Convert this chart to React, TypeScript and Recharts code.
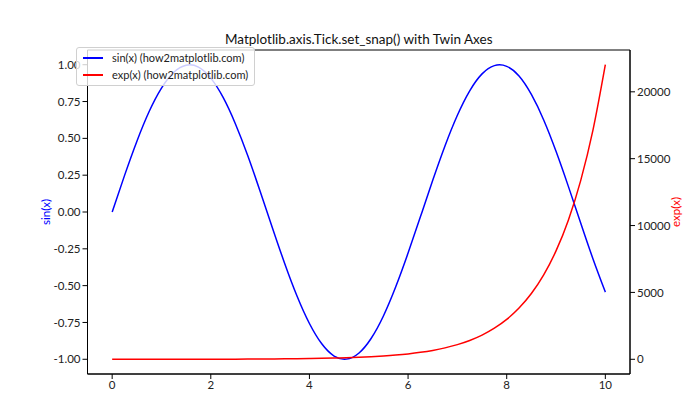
import React from "react";
import {
  LineChart,
  Line,
  XAxis,
  YAxis,
  ReferenceArea,
} from "recharts";

const xValues = [
  0, 0.25, 0.5, 0.75, 1, 1.25, 1.5, 1.75, 2, 2.25, 2.5, 2.75, 3, 3.25, 3.5,
  3.75, 4, 4.25, 4.5, 4.75, 5, 5.25, 5.5, 5.75, 6, 6.25, 6.5, 6.75, 7, 7.25,
  7.5, 7.75, 8, 8.25, 8.5, 8.75, 9, 9.25, 9.5, 9.75, 10,
];

const sinValues = [
  0, 0.247, 0.479, 0.682, 0.841, 0.949, 0.997, 0.984, 0.909, 0.778, 0.598,
  0.382, 0.141, -0.108, -0.351, -0.572, -0.757, -0.895, -0.978, -0.999, -0.959,
  -0.859, -0.706, -0.508, -0.279, -0.033, 0.215, 0.45, 0.657, 0.823, 0.938,
  0.994, 0.989, 0.923, 0.798, 0.625, 0.412, 0.174, -0.075, -0.319, -0.544,
];

const expValues = [
  1, 1.28, 1.65, 2.12, 2.72, 3.49, 4.48, 5.75, 7.39, 9.49, 12.2, 15.6, 20.1,
  25.8, 33.1, 42.5, 54.6, 70.1, 90, 115.6, 148.4, 190.6, 244.7, 314.2, 403.4,
  518, 665.1, 854.1, 1096.6, 1408.1, 1808, 2321.6, 2981, 3827.6, 4914.8,
  6310.7, 8103.1, 10404.6, 13359.7, 17154.2, 22026.5,
];

const xTicks = [0, 2, 4, 6, 8, 10];
const sinTicks = [-1, -0.75, -0.5, -0.25, 0, 0.25, 0.5, 0.75, 1];
const expTicks = [0, 5000, 10000, 15000, 20000];

const legendItems = [
  { name: "sin(x) (how2matplotlib.com)", color: "#0000ff" },
  { name: "exp(x) (how2matplotlib.com)", color: "#ff0000" },
];

const data = xValues.map((x, i) => ({
  x,
  sin: sinValues[i],
  exp: expValues[i],
}));

const FONT = "Lato, 'Noto Sans', sans-serif";
const tickStyle = { fontSize: 11.5, fill: "#222", fontFamily: FONT };

const axisLabel = (text: string, cx: number, color: string) => (props: any) => {
  const vb = props.viewBox || {};
  const cy = vb.y + vb.height / 2;
  return (
    <text
      x={cx}
      y={cy}
      transform={`rotate(-90 ${cx} ${cy})`}
      textAnchor="middle"
      dominantBaseline="central"
      fill={color}
      fontSize={11.5}
      fontFamily={FONT}
    >
      {text}
    </text>
  );
};

export default function App() {
  return (
    <div
      style={{
        position: "absolute",
        left: 0,
        top: 0,
        width: 700,
        height: 420,
        background: "#fff",
      }}
    >
      <div
        style={{
          position: "absolute",
          top: 31,
          left: 87.5,
          width: 542.5,
          textAlign: "center",
          fontFamily: FONT,
          fontSize: 13.5,
          color: "#111",
        }}
      >
        Matplotlib.axis.Tick.set_snap() with Twin Axes
      </div>
      <LineChart
        width={700}
        height={420}
        data={data}
        margin={{ top: 50, right: 10, bottom: 16, left: 27.5 }}
      >
        <XAxis
          dataKey="x"
          type="number"
          domain={[-0.5, 10.5]}
          ticks={xTicks}
          height={30}
          tick={tickStyle}
          tickSize={5}
          tickLine={{ stroke: "#000" }}
          axisLine={{ stroke: "#000" }}
          allowDataOverflow
        />
        <YAxis
          yAxisId="left"
          type="number"
          domain={[-1.1, 1.1]}
          ticks={sinTicks}
          width={60}
          tick={tickStyle}
          tickSize={5}
          tickLine={{ stroke: "#000" }}
          axisLine={{ stroke: "#000" }}
          tickFormatter={(v: number) => v.toFixed(2)}
          allowDataOverflow
          label={axisLabel("sin(x)", 45, "#0000ff")}
        />
        <YAxis
          yAxisId="right"
          orientation="right"
          type="number"
          domain={[-1100, 23127]}
          ticks={expTicks}
          width={60}
          tick={tickStyle}
          tickSize={5}
          tickLine={{ stroke: "#000" }}
          axisLine={{ stroke: "#000" }}
          allowDataOverflow
          label={axisLabel("exp(x)", 675, "#ff0000")}
        />
        <ReferenceArea
          yAxisId="left"
          x1={-0.5}
          x2={10.5}
          y1={-1.1}
          y2={1.1}
          fill="none"
          fillOpacity={0}
          stroke="#000"
          strokeWidth={1}
          ifOverflow="visible"
        />
        <Line
          yAxisId="left"
          dataKey="sin"
          type="natural"
          stroke="#0000ff"
          strokeWidth={1.5}
          dot={false}
          isAnimationActive={false}
        />
        <Line
          yAxisId="right"
          dataKey="exp"
          type="monotone"
          stroke="#ff0000"
          strokeWidth={1.5}
          dot={false}
          isAnimationActive={false}
        />
      </LineChart>
      <div
        style={{
          position: "absolute",
          left: 76,
          top: 47,
          background: "rgba(255,255,255,0.8)",
          border: "1px solid #d0d0d0",
          borderRadius: 3,
          padding: "1px 6px 2px 6px",
          fontFamily: FONT,
          fontSize: 11,
          color: "#222",
          lineHeight: "17px",
        }}
      >
        {legendItems.map((item) => (
          <div key={item.name} style={{ display: "flex", alignItems: "center" }}>
            <span
              style={{
                display: "inline-block",
                width: 20,
                height: 2,
                background: item.color,
                marginRight: 9,
              }}
            />
            {item.name}
          </div>
        ))}
      </div>
    </div>
  );
}
